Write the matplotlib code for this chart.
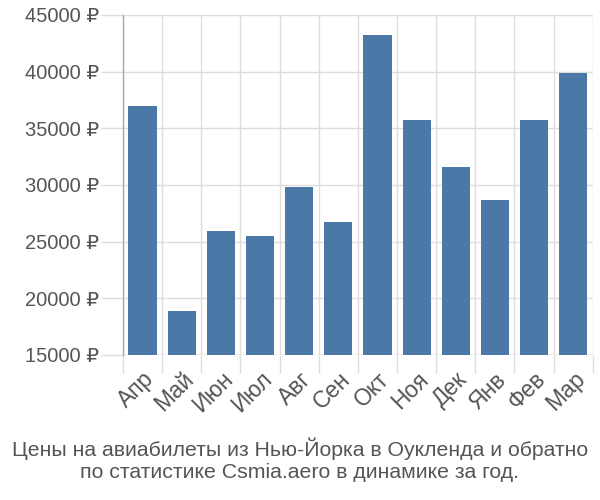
import numpy as np
import matplotlib
matplotlib.use('Agg')
from matplotlib import pyplot as plt
from matplotlib.ticker import FuncFormatter, FixedLocator

plt.rcParams['font.family'] = ['Liberation Sans', 'DejaVu Sans']

# data
months = ['Апр', 'Май', 'Июн', 'Июл', 'Авг', 'Сен', 'Окт', 'Ноя', 'Дек', 'Янв', 'Фев', 'Мар']
prices = [37000, 18900, 25900, 25500, 29800, 26700, 43200, 35700, 31600, 28700, 35700, 39900]
y_ticks = [15000, 20000, 25000, 30000, 35000, 40000, 45000]
title = 'Цены на авиабилеты из Нью-Йорка в Оукленда и обратно\nпо статистике Csmia.aero в динамике за год.'

fig = plt.figure(figsize=(6, 5), dpi=100)
ax = fig.add_axes([0.205, 0.29, 0.783, 0.68])

x = np.arange(len(months))
ax.bar(x, prices, width=0.72, color='#4c78a8', zorder=3)

ax.set_xlim(-0.5, len(months) - 0.5)
ax.set_ylim(15000, 45000)

# y axis
ax.yaxis.set_major_locator(FixedLocator(y_ticks))
ax.yaxis.set_major_formatter(FuncFormatter(lambda v, p: '%d ₽' % v))
ax.tick_params(axis='y', length=16, width=1, color='#dddddd', pad=1,
               labelsize=14.5, labelcolor='#555555')

# x axis: labels at centers, lines at boundaries
ax.set_xticks(x)
ax.set_xticklabels(months, rotation=45, ha='right', rotation_mode='anchor')
ax.set_xticks(np.arange(len(months) + 1) - 0.5, minor=True)
ax.tick_params(axis='x', which='major', length=0, pad=9, labelsize=16.5, labelcolor='#555555')
ax.tick_params(axis='x', which='minor', length=13, width=1, color='#dddddd')

ax.grid(True, axis='y', which='major', color='#dddddd', lw=1, zorder=0)
ax.grid(True, axis='x', which='minor', color='#dddddd', lw=1, zorder=0)

for s in ['top', 'right', 'bottom']:
    ax.spines[s].set_visible(False)
ax.spines['left'].set_color('#aaaaaa')
ax.spines['left'].set_linewidth(1)
ax.axhline(15000, color='#dddddd', lw=1, zorder=1)

fig.text(0.5, 0.08, title, ha='center', va='center', fontsize=15.3, color='#555555',
         linespacing=1.2)

fig.savefig('out.png', dpi=100)
